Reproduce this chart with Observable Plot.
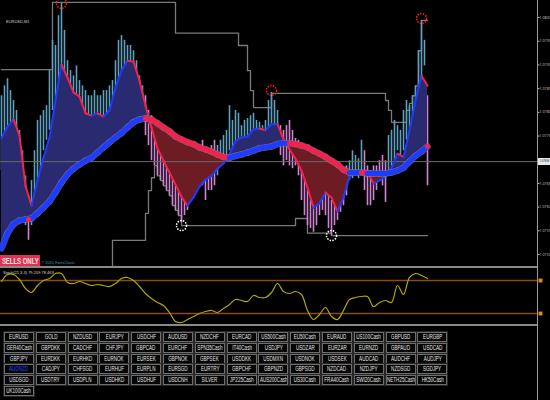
<!DOCTYPE html>
<html><head><meta charset="utf-8">
<script src="https://cdn.jsdelivr.net/npm/d3@7"></script>
<script src="https://cdn.jsdelivr.net/npm/@observablehq/plot@0.6"></script>
<style>
html,body{margin:0;padding:0;background:#000;}
#wrap{position:relative;width:550px;height:400px;background:#000;overflow:hidden;font-family:"Liberation Sans",Arial,sans-serif;}
.abs{position:absolute;}
.btn{position:absolute;box-sizing:border-box;width:30px;height:10px;border:1px solid #6e6e6e;box-shadow:0 0 0 1px #262626;background:#060606;color:#e4e4e4;font-size:6.5px;font-family:"Liberation Sans",sans-serif;line-height:8px;white-space:nowrap;overflow:hidden;display:flex;justify-content:center;align-items:center;}
.sq{display:flex;justify-content:center;align-items:center;}
.btn span,.sq span{display:inline-block;flex:none;transform:scaleX(0.7);transform-origin:center;}
</style></head><body>
<div id="wrap">
  <div id="main" class="abs" style="left:0;top:0"></div>
  <div id="ind" class="abs" style="left:0;top:266px"></div>
</div>
<script>
// ---- price bars (bar index 0..142) ----
const barHigh = [
1.07835,1.07856,1.07871,1.07846,1.07825,1.07804,1.07762,1.07719,1.07666,1.07624,
1.07656,1.07719,1.07783,1.07793,1.07804,1.07814,1.07888,1.07952,1.07941,1.08004,
1.08030,1.07973,1.07909,1.07888,1.07877,1.07898,1.07867,1.07856,1.07846,1.07835,
1.07835,1.07846,1.07835,1.07835,1.07846,1.07846,1.07856,1.07867,1.07909,1.07952,
1.07962,1.07952,1.07941,1.07941,1.07930,1.07909,1.07877,1.07856,1.07835,1.07804,
1.07793,1.07772,1.07762,1.07751,1.07741,1.07741,1.07719,1.07709,1.07698,1.07687,
1.07666,1.07677,1.07698,1.07709,1.07719,1.07730,1.07730,1.07741,1.07719,1.07719,
1.07730,1.07741,1.07730,1.07741,1.07751,1.07762,1.07814,1.07783,1.07804,1.07798,
1.07772,1.07783,1.07787,1.07793,1.07798,1.07783,1.07779,1.07772,1.07783,1.07825,
1.07842,1.07825,1.07804,1.07772,1.07762,1.07772,1.07783,1.07762,1.07745,1.07741,
1.07719,1.07698,1.07677,1.07666,1.07635,1.07645,1.07656,1.07666,1.07645,1.07624,
1.07614,1.07635,1.07645,1.07656,1.07656,1.07687,1.07698,1.07719,1.07709,1.07702,
1.07741,1.07719,1.07687,1.07677,1.07687,1.07687,1.07698,1.07709,1.07698,1.07751,
1.07762,1.07783,1.07772,1.07762,1.07804,1.07825,1.07814,1.07835,1.07856,1.07930,
1.07994,1.07952,1.07835];
const barLow = [
1.07677,1.07719,1.07762,1.07751,1.07741,1.07698,1.07656,1.07614,1.07561,1.07530,
1.07561,1.07603,1.07656,1.07677,1.07719,1.07741,1.07762,1.07804,1.07825,1.07846,
1.07888,1.07846,1.07825,1.07804,1.07804,1.07793,1.07793,1.07772,1.07772,1.07772,
1.07783,1.07787,1.07783,1.07779,1.07783,1.07787,1.07793,1.07804,1.07825,1.07846,
1.07867,1.07877,1.07888,1.07877,1.07856,1.07835,1.07814,1.07783,1.07751,1.07730,
1.07698,1.07687,1.07666,1.07656,1.07645,1.07635,1.07624,1.07603,1.07593,1.07582,
1.07568,1.07582,1.07593,1.07614,1.07624,1.07645,1.07656,1.07645,1.07614,1.07635,
1.07635,1.07645,1.07666,1.07687,1.07694,1.07698,1.07719,1.07719,1.07723,1.07730,
1.07723,1.07730,1.07737,1.07741,1.07745,1.07751,1.07751,1.07741,1.07745,1.07751,
1.07762,1.07751,1.07730,1.07709,1.07687,1.07698,1.07687,1.07681,1.07687,1.07666,
1.07614,1.07582,1.07561,1.07555,1.07547,1.07561,1.07582,1.07593,1.07582,1.07555,
1.07540,1.07561,1.07572,1.07589,1.07603,1.07624,1.07656,1.07660,1.07666,1.07660,
1.07673,1.07635,1.07603,1.07603,1.07614,1.07635,1.07656,1.07645,1.07610,1.07666,
1.07677,1.07698,1.07719,1.07698,1.07719,1.07741,1.07762,1.07772,1.07804,1.07825,
1.07877,1.07898,1.07645];
// bar direction runs: [count, "u" up / "d" down]
const barDirRuns = [[9,"u"],[1,"d"],[38,"u"],[24,"d"],[21,"u"],[23,"d"],[5,"u"],[8,"d"],[13,"u"],[1,"d"]];

// ---- moving averages, every 2nd bar (bar index 0,2,...,142) ----
const fastMA = [
1.07745,1.07770,1.07785,1.07751,1.07645,1.07603,1.07656,1.07704,1.07747,1.07825,
1.07901,1.07873,1.07842,1.07833,1.07798,1.07793,1.07798,1.07791,1.07804,1.07852,
1.07888,1.07909,1.07907,1.07867,1.07814,1.07768,1.07724,1.07698,1.07673,1.07648,
1.07622,1.07603,1.07620,1.07643,1.07658,1.07666,1.07681,1.07692,1.07711,1.07739,
1.07747,1.07749,1.07764,1.07766,1.07762,1.07775,1.07775,1.07743,1.07722,1.07702,
1.07677,1.07641,1.07599,1.07608,1.07631,1.07620,1.07591,1.07620,1.07664,1.07675,
1.07677,1.07675,1.07650,1.07656,1.07666,1.07683,1.07713,1.07706,1.07762,1.07825,
1.07877,1.07856];
const slowMA = [
1.07513,1.07545,1.07564,1.07572,1.07574,1.07576,1.07587,1.07599,1.07612,1.07631,
1.07652,1.07669,1.07681,1.07690,1.07698,1.07704,1.07715,1.07726,1.07737,1.07747,
1.07756,1.07768,1.07779,1.07785,1.07787,1.07785,1.07777,1.07768,1.07760,1.07749,
1.07743,1.07737,1.07733,1.07726,1.07722,1.07717,1.07711,1.07706,1.07704,1.07708,
1.07711,1.07715,1.07719,1.07724,1.07726,1.07728,1.07733,1.07735,1.07735,1.07733,
1.07730,1.07726,1.07719,1.07713,1.07706,1.07698,1.07690,1.07679,1.07673,1.07673,
1.07673,1.07671,1.07671,1.07671,1.07671,1.07673,1.07677,1.07683,1.07696,1.07708,
1.07717,1.07728];

// ---- channel (step) lines: bar index / price ----
const upperIdx   = [0,17,58,79,82,83,84,90,128,129,130,135,136,137,138,139,140,142];
const upperPrice = [1.07890,1.08032,1.07967,1.07941,1.07888,1.07846,1.07810,1.07840,1.07825,1.07804,1.07779,1.07804,1.07819,1.07835,1.07856,1.07930,1.07994,1.07994];
const lowerIdx   = [0,37,48,49,50,51,52,53,54,55,56,57,58,59,60,98,102,110,142];
const lowerPrice = [1.07470,1.07530,1.07587,1.07635,1.07662,1.07687,1.07666,1.07656,1.07645,1.07635,1.07624,1.07603,1.07593,1.07582,1.07561,1.07576,1.07545,1.07540,1.07540];

// ---- markers ----
const topIdx = [20,90,140];      const topPrice = [1.08030,1.07846,1.07998];
const bottomIdx = [60,110];      const bottomPrice = [1.07561,1.07540];
const crossIdx = [9,142];        const crossPrice = [1.07574,1.07728];
const currentPrice = 1.07696;
const priceTicks = [1.0750,1.0755,1.0760,1.0765,1.0775,1.0780,1.0785,1.0790,1.0795,1.0800];

// ---- oscillator, every 2nd bar ----
const osc = [
78.2,90.9,90.9,81.8,65.5,58.2,70.9,80,83.6,92.7,
92.7,76.4,74.5,78.2,74.5,70.9,72.7,70.9,69.1,74.5,
83.6,85.5,80,69.1,56.4,47.3,40,34.5,21.8,5.5,
3.6,9.1,14.5,20,23.6,25.5,21.8,29.1,36.4,45.5,
43.6,41.8,52.7,49.1,49.1,58.2,74.5,60,56.4,60,
54.5,25.5,9.1,18.2,30.9,14.5,9.1,25.5,45.5,49.1,
50.9,50.9,32.7,40,43.6,40,70.9,54.5,85.5,92.7,
89.1,83.6];
const oscLevels = [80,20];

// ---- symbol buttons ----
const symbolRows = [
 ["EURUSD","GOLD","NZDUSD","EURJPY","USDCHF","AUDUSD","NZDCHF","EURCAD","US500Cash","EU50Cash","EURAUD","US100Cash","GBPUSD","EURGBP"],
 ["GER40Cash","GBPDKK","CADCHF","CHFJPY","GBPCAD","EURCHF","SPN35Cash","IT40Cash","USDJPY","USDZAR","EURZAR","EURNZD","GBPAUD","USDCAD"],
 ["GBPJPY","EURDKK","EURHKD","EURNOK","EURSEK","GBPNOK","GBPSEK","USDDKK","USDMXN","USDNOK","USDSEK","AUDCAD","AUDCHF","AUDJPY"],
 ["AUDNZD","CADJPY","CHFSGD","EURHUF","EURPLN","EURSGD","EURTRY","GBPCHF","GBPNZD","GBPSGD","NZDCAD","NZDJPY","NZDSGD","SGDJPY"],
 ["USDSGD","USDTRY","USDPLN","USDHKD","USDHUF","USDCNH","SILVER","JP225Cash","AUS200Cash","US30Cash","FRA40Cash","SWI20Cash","NETH25Cash","HK50Cash"],
 ["UK100Cash"]
];
const activeSymbol = "AUDNZD";

// ---------- build rows ----------
const barDir = barDirRuns.flatMap(([n, d]) => Array(n).fill(d));
const bars = barHigh.map((h, i) => ({i, high: h, low: barLow[i], dir: barDir[i]}));
const maRows = fastMA.map((f, j) => ({i: 2 * j, fast: f, slow: slowMA[j]}));
const segs = maRows.slice(1).map((r, k) => ({
  x1: maRows[k].i, x2: r.i, f1: maRows[k].fast, f2: r.fast, s1: maRows[k].slow, s2: r.slow
}));
const upperRows = upperIdx.map((i, k) => ({i, p: upperPrice[k]}));
const lowerRows = lowerIdx.map((i, k) => ({i, p: lowerPrice[k]}));
const tops = topIdx.map((i, k) => ({i, p: topPrice[k]}));
const bottoms = bottomIdx.map((i, k) => ({i, p: bottomPrice[k]}));
const crosses = crossIdx.map((i, k) => ({i, p: crossPrice[k]}));
const oscRows = osc.map((v, j) => ({i: 2 * j, v}));

const xDomain = [-1/3, 178 + 2/3];
const BLUE = "#1e3cff", RED = "#f2224e";

const main = Plot.plot({
  width: 550, height: 266, marginLeft: 0, marginRight: 13, marginTop: 0, marginBottom: 0,
  style: {background: "transparent", color: "#bdbdbd", overflow: "visible"},
  x: {domain: xDomain, axis: null},
  y: {domain: [1.074747, 1.08036], axis: null},
  color: {type: "identity"},
  marks: [
    Plot.line(upperRows, {x: "i", y: "p", curve: "step-after", stroke: "#7a7a7a", strokeWidth: 1.3}),
    Plot.line(lowerRows, {x: "i", y: "p", curve: "step-after", stroke: "#7a7a7a", strokeWidth: 1.3, clip: true}),
    Plot.ruleX(bars, {x: "i", y1: "low", y2: "high", stroke: d => d.dir === "u" ? "#5f9fbf" : "#d083d2", strokeWidth: 1.6}),
    Plot.areaY(maRows, {x: "i", y1: "slow", y2: d => Math.max(d.fast, d.slow), fill: "#2a2a70"}),
    Plot.areaY(maRows, {x: "i", y1: "slow", y2: d => Math.min(d.fast, d.slow), fill: "#6c1c22"}),
    Plot.ruleY([currentPrice], {stroke: "#6a6a6a", strokeWidth: 1}),
    Plot.link(segs, {x1: "x1", x2: "x2", y1: "f1", y2: "f2", stroke: d => d.f2 >= d.f1 ? BLUE : RED, strokeWidth: 2, strokeLinecap: "round"}),
    Plot.link(segs, {x1: "x1", x2: "x2", y1: "s1", y2: "s2", stroke: "#8d8198", strokeWidth: 6.5, strokeLinecap: "round", strokeOpacity: 0.6}),
    Plot.link(segs, {x1: "x1", x2: "x2", y1: "s1", y2: "s2", stroke: d => d.s2 >= d.s1 ? BLUE : RED, strokeWidth: 5.2, strokeLinecap: "round"}),
    Plot.dot(tops, {x: "i", y: "p", r: 5, stroke: "#ff1a1a", fill: "none", strokeWidth: 1.5, strokeDasharray: "1.5,1.2"}),
    Plot.dot(bottoms, {x: "i", y: "p", r: 5, stroke: "#ffffff", fill: "none", strokeWidth: 1.5, strokeDasharray: "1.5,1.2"}),
    Plot.dot(crosses, {x: "i", y: "p", r: 2.5, fill: "#ff2040", stroke: "none"}),
    Plot.axisY({ticks: priceTicks, anchor: "right", tickSize: 1.5, tickPadding: 0.5, tickFormat: d3.format(".4f"), fontSize: 3.6})
  ]
});
document.getElementById("main").appendChild(main);

const ind = Plot.plot({
  width: 550, height: 59, marginLeft: 0, marginRight: 13, marginTop: 3, marginBottom: 1,
  style: {background: "transparent", color: "#bdbdbd", overflow: "visible"},
  x: {domain: xDomain, axis: null},
  y: {domain: [0, 100], axis: null},
  marks: [
    Plot.ruleY(oscLevels, {stroke: "#8e4a14", strokeWidth: 1.5}),
    Plot.line(oscRows, {x: "i", y: "v", stroke: "#b0a800", strokeWidth: 1.2, curve: "catmull-rom"}),
    Plot.dot(oscLevels, {y: d => d, frameAnchor: "right", dx: 3, symbol: "square", r: 2.2, fill: "#e0881e"})
  ]
});
document.getElementById("ind").appendChild(ind);

// ---------- chrome ----------
const wrap = document.getElementById("wrap");
function addDiv(css, text, cls) {
  const d = document.createElement("div");
  d.className = cls || "abs";
  d.style.cssText = css;
  if (text != null) {
    const s = document.createElement("span");
    s.textContent = text;
    d.appendChild(s);
  }
  wrap.appendChild(d);
  return d;
}
addDiv("left:0;top:266px;width:537px;height:2px;background:#8a8a8a;");
addDiv("left:0;top:324px;width:537px;height:2px;background:#8a8a8a;");
addDiv("left:537px;top:0;width:1px;height:400px;background:#9a9a9a;");

// current price tag
const cy = main.scale("y").apply(currentPrice);
addDiv(`left:538px;top:${cy - 3.5}px;width:12px;height:7px;background:#e6e6e6;color:#111;font-size:3.6px;white-space:nowrap;overflow:hidden;`, d3.format(".5f")(currentPrice), "abs sq");

// texts
addDiv("left:6px;top:19px;color:#cfcfcf;font-size:4px;white-space:nowrap;", "EURUSD,M1");
addDiv("left:0;top:255px;width:40px;height:11px;background:#e2304e;color:#ffe6ea;font-size:8.5px;font-weight:bold;white-space:nowrap;overflow:hidden;", "SELLS ONLY", "abs sq");
addDiv("left:42px;top:261px;color:#1bb3b3;font-size:3.5px;white-space:nowrap;", "\u00a9 2020, ForexCharts");
addDiv("left:3px;top:270px;color:#d8d8d8;font-size:4px;white-space:nowrap;", "Stoch(21,3,3) 79.209 78.463");

// buttons
symbolRows.forEach((row, r) => row.forEach((s, c) => {
  const b = addDiv("", s, "btn");
  b.style.left = (4 + c * 31.8) + "px";
  b.style.top = (332 + r * 10.8) + "px";
  if (s === activeSymbol) b.style.color = "#2a40ff";
}));
</script>
</body></html>
